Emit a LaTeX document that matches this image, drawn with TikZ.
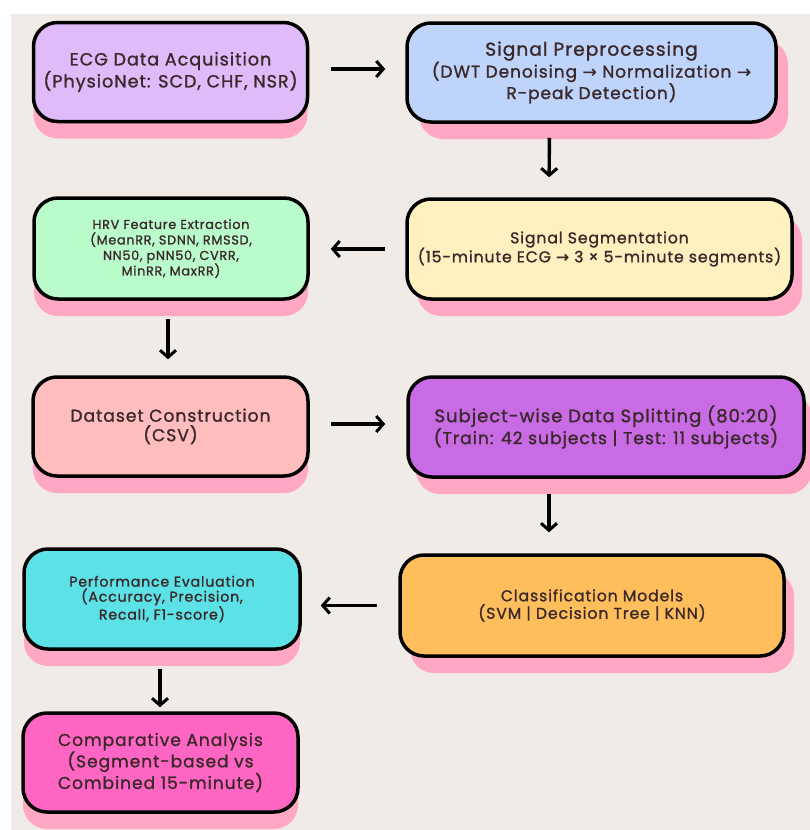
\documentclass[tikz,border=0pt]{standalone}
\usepackage{fontspec}
\setmainfont{Poppins}[LetterSpace=5.5, FakeBold=1.2]
\newfontfamily\arrowfont{DejaVu Sans}[FakeBold=0.6]
\usetikzlibrary{arrows.meta,shadows}

\definecolor{bgbeige}{RGB}{240,235,231}
\definecolor{shadowpink}{RGB}{255,167,195}
\definecolor{ink}{RGB}{58,40,42}
\definecolor{lavender}{RGB}{224,187,250}
\definecolor{skyblue}{RGB}{191,212,251}
\definecolor{mint}{RGB}{186,251,203}
\definecolor{cream}{RGB}{255,240,191}
\definecolor{blush}{RGB}{255,189,189}
\definecolor{violet}{RGB}{201,107,229}
\definecolor{apricot}{RGB}{255,190,92}
\definecolor{aqua}{RGB}{92,225,230}
\definecolor{hotpink}{RGB}{255,102,196}

\newcommand{\rarr}{{\arrowfont\char"2192}}
\newcommand{\fs}[2]{\fontsize{#1}{#2}\selectfont}

\begin{document}
\begin{tikzpicture}[x=1pt,y=-1pt,
  card/.style={draw=black, line width=3.5pt, rounded corners=24pt, align=center, text=ink, inner sep=4pt,
    drop shadow={shadow xshift=#1, shadow yshift=-17pt, fill=shadowpink, opacity=1}},
  card/.default=0pt,
  flow/.style={line width=3.4pt, -{Straight Barb[length=7pt,width=16pt,line width=3pt]}}]
\useasboundingbox (0,0) rectangle (810,830);
\fill[white] (0,0) rectangle (810,830);
\fill[bgbeige] (11,14) rectangle (810,830);

% row 1
\node[card, fill=lavender, minimum width=274pt, minimum height=99pt, font=\fs{17.6}{20}] (acq) at (170.5,72)
  {ECG Data Acquisition\\(PhysioNet: SCD, CHF, NSR)};
\node[card=12pt, fill=skyblue, minimum width=369pt, minimum height=99pt, font=\fs{17}{18.5}] (prep) at (591.5,72.5)
  {{\fs{18.6}{18.5}Signal Preprocessing}\\(DWT Denoising \rarr\ Normalization \rarr\\R-peak Detection)};

% row 2
\node[card, fill=mint, minimum width=274pt, minimum height=101pt, font=\fs{12.8}{15.5}] (hrv) at (171,248.5)
  {HRV Feature Extraction\\(MeanRR, SDNN, RMSSD,\\NN50, pNN50, CVRR,\\MinRR, MaxRR)};
\node[card=10pt, fill=cream, minimum width=385pt, minimum height=100pt, font=\fs{15.7}{19}] (seg) at (599.5,249)
  {Signal Segmentation\\(15-minute ECG \rarr\ 3 × 5-minute segments)};

% row 3
\node[card, fill=blush, minimum width=275pt, minimum height=99pt, font=\fs{17.2}{19.5}] (dataset) at (170.5,426.5)
  {Dataset Construction\\(CSV)};
\node[card=8pt, fill=violet, minimum width=396pt, minimum height=100pt, font=\fs{17.2}{19.5}] (split) at (606,427)
  {{\fs{18}{19.5}Subject-wise Data Splitting (80:20)}\\(Train: 42 subjects | Test: 11 subjects)};

% row 4
\node[card=10pt, fill=apricot, minimum width=384pt, minimum height=101pt, font=\fs{15.7}{17.5}] (cls) at (592,605.5)
  {Classification Models\\(SVM | Decision Tree | KNN)};
\node[card, fill=aqua, minimum width=276pt, minimum height=100pt, font=\fs{14.2}{15}] (perf) at (162,599)
  {Performance Evaluation\\(Accuracy, Precision,\\Recall, F1-score)};

% row 5
\node[card, fill=hotpink, minimum width=275pt, minimum height=99pt, font=\fs{17.1}{18}] (comp) at (160.5,762.5)
  {Comparative Analysis\\(Segment-based vs\\Combined 15-minute)};

% arrows
\draw[flow, shorten <=22pt, shorten >=20pt] ([yshift=3pt]acq.east) -- ([yshift=3pt]acq.east -| prep.west);
\draw[flow, shorten <=14pt, shorten >=20pt] ([xshift=-42pt]prep.south) -- ([xshift=-50.5pt]seg.north);
\draw[flow, shorten <=20pt, shorten >=21pt] (seg.west) -- (seg.west -| hrv.east);
\draw[flow, shorten <=18pt, shorten >=16pt] ([xshift=-3pt]hrv.south) -- ([xshift=-2.5pt]dataset.north);
\draw[flow, shorten <=21pt, shorten >=21pt] ([yshift=2.5pt]dataset.east) -- ([yshift=2.5pt]dataset.east -| split.west);
\draw[flow, shorten <=15pt, shorten >=21pt] ([xshift=-57pt]split.south) -- ([xshift=-43pt]cls.north);
\draw[flow, shorten <=21pt, shorten >=19pt] (cls.west) -- (cls.west -| perf.east);
\draw[flow, shorten <=18pt, shorten >=4pt] ([xshift=-2pt]perf.south) -- ([xshift=-0.5pt]comp.north);

\end{tikzpicture}
\end{document}
